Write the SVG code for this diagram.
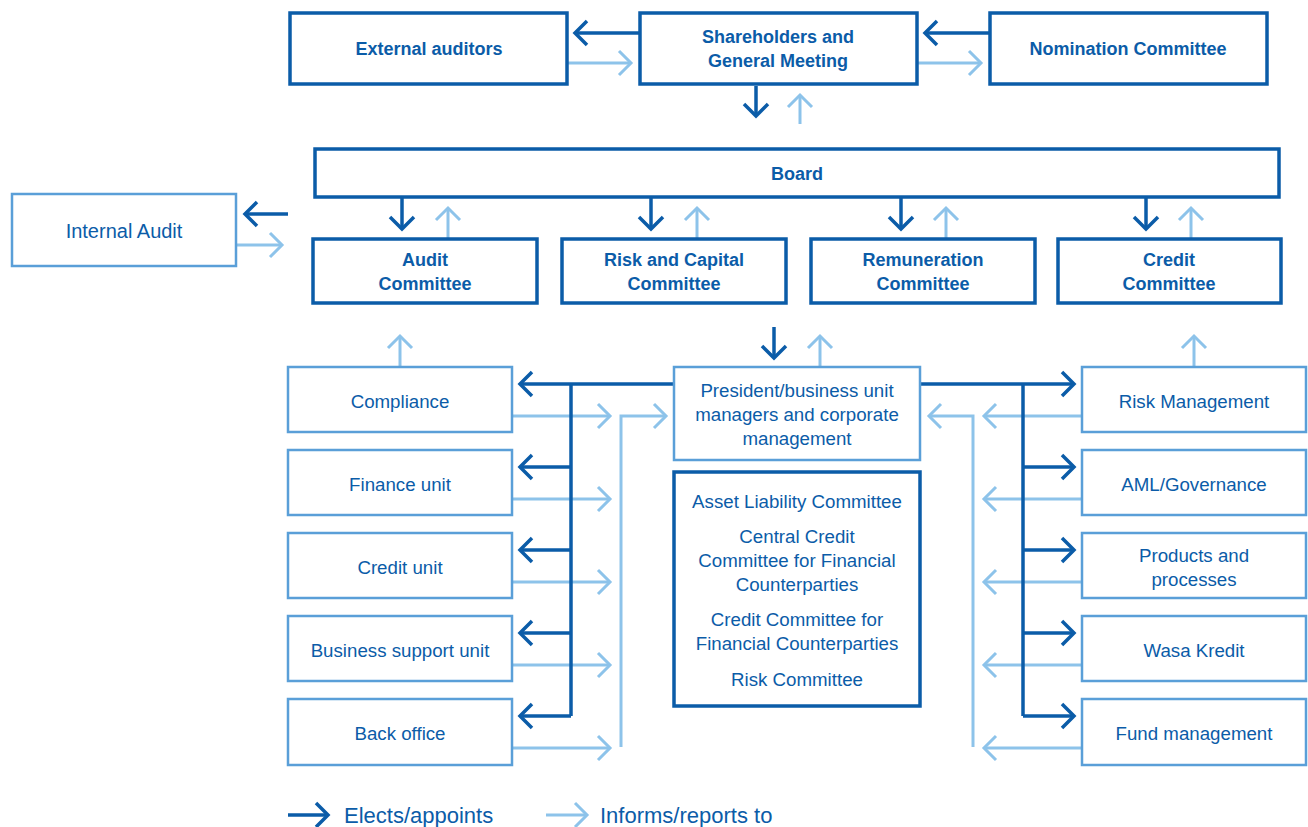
<svg xmlns="http://www.w3.org/2000/svg" width="1308" height="827" viewBox="0 0 1308 827">
<style>
.bd{fill:#fff;stroke:#0B5CA8;stroke-width:3.5}
.bl{fill:#fff;stroke:#5A9FD8;stroke-width:2.5}
.tb{font-family:"Liberation Sans",Arial,sans-serif;font-weight:bold;font-size:18px;fill:#0B5CA8;text-anchor:middle;dominant-baseline:central}
.t{font-family:"Liberation Sans",Arial,sans-serif;font-size:18.7px;fill:#0B5CA8;text-anchor:middle;dominant-baseline:central}
.lg{font-family:"Liberation Sans",Arial,sans-serif;font-size:22px;fill:#0B5CA8;dominant-baseline:central}
.d{fill:none;stroke:#0B5CA8;stroke-width:3.5}
.l{fill:none;stroke:#8DC3EA;stroke-width:3}
.da{fill:none;stroke:#0B5CA8;stroke-width:3.5;marker-end:url(#ad)}
.la{fill:none;stroke:#8DC3EA;stroke-width:3;marker-end:url(#al)}
</style>
<defs>
<marker id="ad" markerUnits="userSpaceOnUse" markerWidth="30" markerHeight="30" viewBox="-15 -15 30 30" refX="0" refY="0" orient="auto" overflow="visible"><path d="M-12,-12 L0,0 L-12,12" fill="none" stroke="#0B5CA8" stroke-width="3.5"/></marker>
<marker id="al" markerUnits="userSpaceOnUse" markerWidth="30" markerHeight="30" viewBox="-15 -15 30 30" refX="0" refY="0" orient="auto" overflow="visible"><path d="M-12,-12 L0,0 L-12,12" fill="none" stroke="#8DC3EA" stroke-width="3"/></marker>
</defs>
<rect width="1308" height="827" fill="#fff"/>
<g id="connectors">
<path class="da" d="M640,33 L575,33"/>
<path class="la" d="M567,63 L631,63"/>
<path class="da" d="M990,33 L925,33"/>
<path class="la" d="M917,63 L981,63"/>
<path class="da" d="M756,86 L756,116"/>
<path class="la" d="M800,124 L800,95"/>
<path class="da" d="M402,197 L402,229"/>
<path class="la" d="M448,239 L448,208"/>
<path class="da" d="M651,197 L651,229"/>
<path class="la" d="M697,239 L697,208"/>
<path class="da" d="M901,197 L901,229"/>
<path class="la" d="M946,239 L946,208"/>
<path class="da" d="M1146,197 L1146,229"/>
<path class="la" d="M1191,239 L1191,208"/>
<path class="da" d="M288,214 L245,214"/>
<path class="la" d="M236,245 L282,245"/>
<path class="la" d="M400,367 L400,336"/>
<path class="la" d="M1194,367 L1194,336"/>
<path class="da" d="M774,327 L774,358"/>
<path class="la" d="M820,367 L820,336"/>
<!-- left light -->
<path class="la" d="M512,416 L610,416"/>
<path class="la" d="M512,499 L610,499"/>
<path class="la" d="M512,582 L610,582"/>
<path class="la" d="M512,665 L610,665"/>
<path class="la" d="M512,748 L610,748"/>
<path class="la" d="M621,747 L621,416 L666,416"/>
<!-- right light -->
<path class="la" d="M1082,416 L984,416"/>
<path class="la" d="M1082,499 L984,499"/>
<path class="la" d="M1082,582 L984,582"/>
<path class="la" d="M1082,665 L984,665"/>
<path class="la" d="M1082,748 L984,748"/>
<path class="la" d="M973,747 L973,416 L929,416"/>
<!-- left dark -->
<path class="da" d="M674,384 L520,384"/>
<path class="d" d="M571,384 L571,716"/>
<path class="da" d="M571,467 L520,467"/>
<path class="da" d="M571,550 L520,550"/>
<path class="da" d="M571,633 L520,633"/>
<path class="da" d="M571,716 L520,716"/>
<!-- right dark -->
<path class="da" d="M920,384 L1074,384"/>
<path class="d" d="M1023,384 L1023,716"/>
<path class="da" d="M1023,467 L1074,467"/>
<path class="da" d="M1023,550 L1074,550"/>
<path class="da" d="M1023,633 L1074,633"/>
<path class="da" d="M1023,716 L1074,716"/>
</g>
<g id="external-auditors"><rect class="bd" x="290" y="13" width="277" height="71"/><text class="tb" x="429" y="49">External auditors</text></g>
<g id="shareholders"><rect class="bd" x="640" y="13" width="277" height="71"/><text class="tb" x="778" y="37">Shareholders and</text><text class="tb" x="778" y="61">General Meeting</text></g>
<g id="nomination"><rect class="bd" x="990" y="13" width="277" height="71"/><text class="tb" x="1128" y="49">Nomination Committee</text></g>
<g id="board"><rect class="bd" x="315" y="149" width="964" height="48"/><text class="tb" x="797" y="174">Board</text></g>
<g id="internal-audit"><rect class="bl" x="12" y="194" width="224" height="72"/><text class="t" x="124" y="231" style="font-size:20px">Internal Audit</text></g>
<g id="audit-committee"><rect class="bd" x="313" y="239" width="224" height="64"/><text class="tb" x="425" y="260">Audit</text><text class="tb" x="425" y="284">Committee</text></g>
<g id="risk-capital"><rect class="bd" x="562" y="239" width="224" height="64"/><text class="tb" x="674" y="260">Risk and Capital</text><text class="tb" x="674" y="284">Committee</text></g>
<g id="remuneration"><rect class="bd" x="811" y="239" width="224" height="64"/><text class="tb" x="923" y="260">Remuneration</text><text class="tb" x="923" y="284">Committee</text></g>
<g id="credit-committee"><rect class="bd" x="1058" y="239" width="223" height="64"/><text class="tb" x="1169" y="260">Credit</text><text class="tb" x="1169" y="284">Committee</text></g>
<g id="president"><rect class="bl" x="674" y="367" width="246" height="93"/><text class="t" x="797" y="390">President/business unit</text><text class="t" x="797" y="414">managers and corporate</text><text class="t" x="797" y="438">management</text></g>
<g id="management-committees"><rect class="bd" x="674" y="472" width="246" height="234"/><text class="t" x="797" y="501">Asset Liability Committee</text><text class="t" x="797" y="536">Central Credit</text><text class="t" x="797" y="560">Committee for Financial</text><text class="t" x="797" y="584">Counterparties</text><text class="t" x="797" y="619">Credit Committee for</text><text class="t" x="797" y="643">Financial Counterparties</text><text class="t" x="797" y="679">Risk Committee</text></g>
<g id="compliance"><rect class="bl" x="288" y="367" width="224" height="65"/><text class="t" x="400" y="401">Compliance</text></g>
<g id="finance-unit"><rect class="bl" x="288" y="450" width="224" height="65"/><text class="t" x="400" y="484">Finance unit</text></g>
<g id="credit-unit"><rect class="bl" x="288" y="533" width="224" height="65"/><text class="t" x="400" y="567">Credit unit</text></g>
<g id="business-support"><rect class="bl" x="288" y="616" width="224" height="65"/><text class="t" x="400" y="650">Business support unit</text></g>
<g id="back-office"><rect class="bl" x="288" y="699" width="224" height="66"/><text class="t" x="400" y="733">Back office</text></g>
<g id="risk-management"><rect class="bl" x="1082" y="367" width="224" height="65"/><text class="t" x="1194" y="401">Risk Management</text></g>
<g id="aml"><rect class="bl" x="1082" y="450" width="224" height="65"/><text class="t" x="1194" y="484">AML/Governance</text></g>
<g id="products"><rect class="bl" x="1082" y="533" width="224" height="65"/><text class="t" x="1194" y="555">Products and</text><text class="t" x="1194" y="579">processes</text></g>
<g id="wasa"><rect class="bl" x="1082" y="616" width="224" height="65"/><text class="t" x="1194" y="650">Wasa Kredit</text></g>
<g id="fund"><rect class="bl" x="1082" y="699" width="224" height="66"/><text class="t" x="1194" y="733">Fund management</text></g>
<g id="legend">
<path class="da" d="M288,815 L328,815"/>
<text class="lg" x="344" y="815">Elects/appoints</text>
<path class="la" d="M546,815 L587,815"/>
<text class="lg" x="600" y="815">Informs/reports to</text>
</g>
</svg>
